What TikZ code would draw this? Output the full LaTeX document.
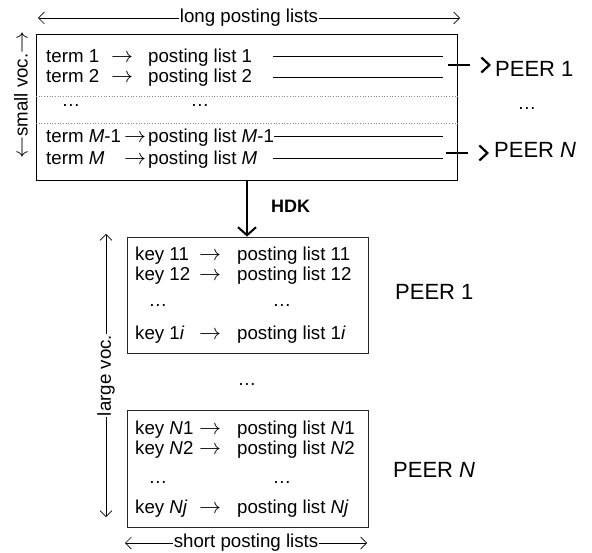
\documentclass[tikz,border=0pt]{standalone}
\usepackage{fix-cm}
\usepackage{fontspec}
\setmainfont{Liberation Sans}
\usetikzlibrary{arrows.meta}
\newcommand{\rarr}{{\fontsize{22}{22}\selectfont$\rightarrow$}}
\newcommand{\larr}{{\fontsize{22}{22}\selectfont$\leftarrow$}}
\begin{document}
\begin{tikzpicture}[x=1pt,y=-1pt,
  txt/.style={inner sep=0pt, anchor=base west, font=\fontsize{18.7}{20}\selectfont},
  ctxt/.style={inner sep=0pt, anchor=base, font=\fontsize{18.7}{20}\selectfont},
  peertxt/.style={inner sep=0pt, anchor=base west, font=\fontsize{22}{24}\selectfont},
  boxstyle/.style={draw=black!85, line width=0.9pt, inner sep=0pt},
  rowline/.style={line width=0.8pt},
  sepline/.style={draw=black!45, dotted, line width=0.7pt},
  dimarrow/.style={line width=0.7pt, {Straight Barb[length=6pt,width=12pt]}-{Straight Barb[length=6pt,width=12pt]}},
  dimlabel/.style={fill=white, inner sep=0.5pt, font=\fontsize{18.7}{20}\selectfont},
  peerarrow/.style={line width=2.2pt, dash pattern=on 22pt off 200pt, -{Straight Barb[length=8pt,width=15pt]}},
  hdkarrow/.style={line width=2pt, -{Straight Barb[length=8pt,width=18pt]}}
]
\useasboundingbox (0,0) rectangle (592,553);

% ---- top box ----
\node[boxstyle, draw=black, line width=1pt, minimum width=421pt, minimum height=146pt] (top) at (246.5,108) {};

\node[txt] (t1) at (46,63) {term 1};
\node[ctxt] (ta1) at (122,63) {\rarr};
\node[txt] (tp1) at (148,63) {posting list 1};
\node[txt] (t2) at (46,83) {term 2};
\node[ctxt] (ta2) at (122,83) {\rarr};
\node[txt] (tp2) at (148,83) {posting list 2};
\node[ctxt] (td1) at (71,107) {…};
\node[ctxt] (td2) at (200,107) {…};
\node[txt] (t3) at (46,143) {term \textit{M}-1};
\node[ctxt] (ta3) at (135,143) {\rarr};
\node[txt] (tp3) at (148,143) {posting list \textit{M}-1};
\node[txt] (t4) at (46,165) {term \textit{M}};
\node[ctxt] (ta4) at (135,165) {\rarr};
\node[txt] (tp4) at (148,165) {posting list \textit{M}};

\coordinate (l1a) at (273,56); \coordinate (l1b) at (443,56);
\coordinate (l2a) at (273,77); \coordinate (l2b) at (443,77);
\coordinate (l3a) at (274,136); \coordinate (l3b) at (443,136);
\coordinate (l4a) at (273,158); \coordinate (l4b) at (443,158);
\draw[rowline] (l1a) -- (l1b);
\draw[rowline] (l2a) -- (l2b);
\draw[rowline] (l3a) -- (l3b);
\draw[rowline] (l4a) -- (l4b);

\coordinate (d1) at (36,96); \coordinate (d2) at (36,123);
\draw[sepline] (d1) -- (d1 -| top.east);
\draw[sepline] (d2) -- (d2 -| top.east);

% ---- dimension labels ----
\coordinate (lpa) at (38,18); \coordinate (lpb) at (460,18);
\draw[dimarrow] (lpa) -- node[dimlabel] (lpl) {long posting lists} (lpb);

\node[inner sep=0pt, rotate=90, font=\fontsize{18.7}{20}\selectfont] (sv) at (21,95) {\larr small voc.\rarr};

\coordinate (lva) at (106,234); \coordinate (lvb) at (106,517);
\draw[dimarrow] (lva) -- node[dimlabel, rotate=90] (lvl) {large voc.} (lvb);

\coordinate (spa) at (125,543); \coordinate (spb) at (367,543);
\draw[dimarrow] (spa) -- node[dimlabel] (spl) {short posting lists} (spb);

% ---- peers on the right of top box ----
\coordinate (s1) at (448,65); \coordinate (e1) at (491,65);
\node[peertxt] (peerA) at (495,77) {PEER 1};
\draw[peerarrow] (s1) -- (e1);
\node[ctxt] (rdots) at (527,110) {…};
\coordinate (s2) at (446,153); \coordinate (e2) at (489,153);
\node[peertxt] (peerB) at (494,158) {PEER \textit{N}};
\draw[peerarrow] (s2) -- (e2);

% ---- peer boxes ----
\node[boxstyle, minimum width=241pt, minimum height=116pt] (b1) at (247.5,295) {};
\node[boxstyle, minimum width=241pt, minimum height=117pt] (bN) at (247.5,468.5) {};

\draw[hdkarrow] (247,181) coordinate (hs) -- (b1.north -| hs);
\node[inner sep=0pt, anchor=base west, font=\fontsize{18}{20}\selectfont\bfseries] (hdk) at (271,213) {HDK};

\node[txt] (k11) at (135,261) {key 11};
\node[ctxt] (ka11) at (210,261) {\rarr};
\node[txt] (kp11) at (237,261) {posting list 11};
\node[txt] (k12) at (135,281) {key 12};
\node[ctxt] (ka12) at (210,281) {\rarr};
\node[txt] (kp12) at (237,281) {posting list 12};
\node[ctxt] (kd11) at (158,307) {…};
\node[ctxt] (kd12) at (282,307) {…};
\node[txt] (k1i) at (135,340) {key 1\textit{i}};
\node[ctxt] (ka1i) at (210,340) {\rarr};
\node[txt] (kp1i) at (237,340) {posting list 1\textit{i}};

\node[peertxt] (peerC) at (395,300) {PEER 1};
\node[ctxt] (mdots) at (247,385) {…};

\node[txt] (kN1) at (135,434) {key \textit{N}1};
\node[ctxt] (kaN1) at (210,434) {\rarr};
\node[txt] (kpN1) at (237,434) {posting list \textit{N}1};
\node[txt] (kN2) at (135,454) {key \textit{N}2};
\node[ctxt] (kaN2) at (210,454) {\rarr};
\node[txt] (kpN2) at (237,454) {posting list \textit{N}2};
\node[ctxt] (kdN1) at (158,483) {…};
\node[ctxt] (kdN2) at (282,483) {…};
\node[txt] (kNj) at (135,513) {key \textit{Nj}};
\node[ctxt] (kaNj) at (210,513) {\rarr};
\node[txt] (kpNj) at (237,513) {posting list \textit{Nj}};

\node[peertxt] (peerD) at (393,477) {PEER \textit{N}};
\end{tikzpicture}
\end{document}
